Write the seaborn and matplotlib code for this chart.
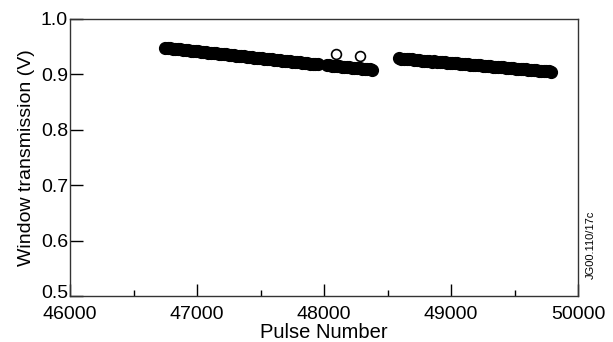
import matplotlib
matplotlib.use("Agg")
import matplotlib.pyplot as plt
import matplotlib.transforms as mtransforms
import seaborn as sns
import pandas as pd
from matplotlib.ticker import MultipleLocator

# ---- data ----
pulse_seg1 = [46750, 46770, 46790, 46810, 46830, 46850, 46870, 46890, 46910, 46930,
              46950, 46970, 46990, 47010, 47030, 47050, 47070, 47090, 47110, 47130,
              47150, 47170, 47190, 47210, 47230, 47250, 47270, 47290, 47310, 47330,
              47350, 47370, 47390, 47410, 47430, 47450, 47470, 47490, 47510, 47530,
              47550, 47570, 47590, 47610, 47630, 47650, 47670, 47690, 47710, 47730,
              47750, 47770, 47790, 47810, 47830, 47850, 47870, 47890, 47910, 47930,
              47950]
volt_seg1 = [0.9480, 0.9476, 0.9470, 0.9466, 0.9460, 0.9454, 0.9450, 0.9446, 0.9440, 0.9434,
             0.9430, 0.9424, 0.9420, 0.9416, 0.9410, 0.9404, 0.9400, 0.9394, 0.9390, 0.9386,
             0.9380, 0.9374, 0.9370, 0.9366, 0.9360, 0.9354, 0.9350, 0.9344, 0.9340, 0.9336,
             0.9330, 0.9324, 0.9320, 0.9316, 0.9310, 0.9304, 0.9300, 0.9294, 0.9290, 0.9286,
             0.9280, 0.9274, 0.9270, 0.9266, 0.9260, 0.9254, 0.9250, 0.9244, 0.9240, 0.9236,
             0.9230, 0.9224, 0.9220, 0.9216, 0.9210, 0.9204, 0.9200, 0.9194, 0.9190, 0.9186,
             0.9180]

pulse_seg2 = [48020, 48040, 48060, 48080, 48100, 48120, 48140, 48160, 48180, 48200,
              48220, 48240, 48260, 48280, 48300, 48320, 48340, 48360, 48380]
volt_seg2 = [0.9170, 0.9166, 0.9160, 0.9156, 0.9152, 0.9146, 0.9142, 0.9138, 0.9132, 0.9128,
             0.9124, 0.9118, 0.9114, 0.9110, 0.9104, 0.9100, 0.9096, 0.9090, 0.9086]

pulse_out = [48095, 48285]
volt_out = [0.937, 0.933]

pulse_seg3 = [48590, 48610, 48630, 48650, 48670, 48690, 48710, 48730, 48750, 48770,
              48790, 48810, 48830, 48850, 48870, 48890, 48910, 48930, 48950, 48970,
              48990, 49010, 49030, 49050, 49070, 49090, 49110, 49130, 49150, 49170,
              49190, 49210, 49230, 49250, 49270, 49290, 49310, 49330, 49350, 49370,
              49390, 49410, 49430, 49450, 49470, 49490, 49510, 49530, 49550, 49570,
              49590, 49610, 49630, 49650, 49670, 49690, 49710, 49730, 49750, 49770,
              49790]
volt_seg3 = [0.9290, 0.9286, 0.9282, 0.9278, 0.9274, 0.9270, 0.9266, 0.9262, 0.9258, 0.9235,
             0.9250, 0.9246, 0.9242, 0.9228, 0.9234, 0.9230, 0.9226, 0.9222, 0.9218, 0.9214,
             0.9210, 0.9206, 0.9202, 0.9198, 0.9194, 0.9190, 0.9186, 0.9182, 0.9178, 0.9174,
             0.9170, 0.9166, 0.9162, 0.9158, 0.9154, 0.9150, 0.9146, 0.9142, 0.9138, 0.9134,
             0.9130, 0.9126, 0.9122, 0.9118, 0.9114, 0.9110, 0.9106, 0.9102, 0.9098, 0.9094,
             0.9090, 0.9086, 0.9082, 0.9078, 0.9074, 0.9070, 0.9066, 0.9062, 0.9058, 0.9054,
             0.9050]

x_ticks = [46000, 47000, 48000, 49000, 50000]
y_ticks = [0.5, 0.6, 0.7, 0.8, 0.9, 1.0]

df_band = pd.DataFrame({
    "pulse": pulse_seg1 + pulse_seg2 + pulse_seg3,
    "volt": volt_seg1 + volt_seg2 + volt_seg3,
})
df_out = pd.DataFrame({"pulse": pulse_out, "volt": volt_out})

sns.set_theme(style="white")
plt.rcParams["font.family"] = ["Liberation Sans", "DejaVu Sans"]

fig = plt.figure(figsize=(6.13, 3.42), dpi=100)
ax = fig.add_axes([70 / 613, 1 - 296 / 342, 508 / 613, 277 / 342])

sns.scatterplot(data=df_band, x="pulse", y="volt", ax=ax, s=72, color="black",
                edgecolor="black", linewidth=1.0, marker="o", legend=False, zorder=3)
sns.scatterplot(data=df_out, x="pulse", y="volt", ax=ax, s=50, facecolor="white",
                edgecolor="black", linewidth=1.2, marker="o", legend=False, zorder=4)

ax.set_xlim(46000, 50000)
ax.set_ylim(0.5, 1.0)
ax.set_xticks(x_ticks)
ax.set_xticklabels([str(t) for t in x_ticks])
ax.set_yticks(y_ticks)
ax.set_yticklabels([f"{t:.1f}" for t in y_ticks])
ax.xaxis.set_minor_locator(MultipleLocator(500))

ax.tick_params(axis="both", which="major", direction="in", length=9, width=1,
               color="black", labelsize=14, labelcolor="black")
ax.tick_params(axis="x", which="major", pad=7)
ax.tick_params(axis="y", which="major", pad=1.5)
ax.tick_params(axis="x", which="minor", direction="in", length=4.5, width=1,
               color="black", bottom=True)
ax.tick_params(axis="y", which="both", left=True, right=False)
ax.tick_params(axis="x", which="both", bottom=True, top=False)

# the bottom y label sits slightly raised above its tick, as in the reference
lab05 = ax.get_yticklabels()[0]
lab05.set_transform(lab05.get_transform() +
                    mtransforms.ScaledTranslation(0, 4 / 100, fig.dpi_scale_trans))

for sp in ax.spines.values():
    sp.set_color("#333333")
    sp.set_linewidth(1.0)
    sp.set_visible(True)

ax.set_xlabel("Pulse Number", fontsize=14.5, color="black", labelpad=0)
ax.set_ylabel("Window transmission (V)", fontsize=14, color="black", labelpad=4)

fig.text(591 / 613, 1 - 245 / 342, "JG00.110/17c", rotation=90, fontsize=8,
         ha="center", va="center", color="black")

fig.savefig("out.png", dpi=100, facecolor="white")
